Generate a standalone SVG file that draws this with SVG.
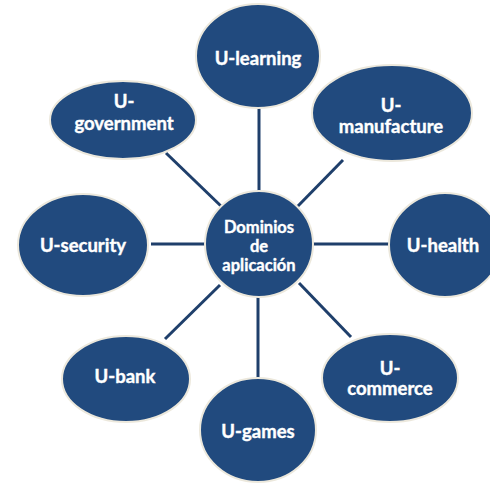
<svg xmlns="http://www.w3.org/2000/svg" width="490" height="484" viewBox="0 0 490 484">
  <style>
    .node { fill: #214a7e; stroke: #ece8dc; stroke-width: 2; }
    .lbl { font-family: Lato, "Open Sans", "Liberation Sans", sans-serif; font-weight: bold; font-size: 18.5px; fill: #ffffff; stroke: #ffffff; stroke-width: 0.4; text-anchor: middle; }
    .hub { font-size: 16.5px; }
    .edge { stroke: #1f3f6b; stroke-width: 3; fill: none; }
  </style>
  <rect width="490" height="484" fill="#ffffff"/>

  <g id="connectors">
    <line class="edge" x1="259" y1="108" x2="259" y2="191"/>
    <line class="edge" x1="343" y1="160" x2="297" y2="207"/>
    <line class="edge" x1="166" y1="153" x2="222" y2="207"/>
    <line class="edge" x1="151" y1="244" x2="206" y2="244"/>
    <line class="edge" x1="312" y1="244" x2="389" y2="244"/>
    <line class="edge" x1="165" y1="339" x2="220" y2="285"/>
    <line class="edge" x1="258" y1="296" x2="258" y2="378"/>
    <line class="edge" x1="299" y1="283" x2="351" y2="337"/>
  </g>

  <g id="u-learning">
    <ellipse class="node" cx="258" cy="56" rx="62" ry="52"/>
    <text class="lbl" x="258" y="65">U-learning</text>
  </g>

  <g id="u-manufacture">
    <ellipse class="node" cx="392" cy="113" rx="80" ry="48"/>
    <text class="lbl" x="391" y="112">U-</text>
    <text class="lbl" x="391" y="133">manufacture</text>
  </g>

  <g id="u-government">
    <ellipse class="node" cx="123" cy="120" rx="73" ry="39"/>
    <text class="lbl" x="124" y="108">U-</text>
    <text class="lbl" x="124" y="130">government</text>
  </g>

  <g id="dominios">
    <ellipse class="node" cx="259" cy="244" rx="54" ry="53"/>
    <text class="lbl hub" x="259" y="233">Dominios</text>
    <text class="lbl hub" x="259" y="252">de</text>
    <text class="lbl hub" x="259" y="271">aplicación</text>
  </g>

  <g id="u-security">
    <ellipse class="node" cx="83" cy="245" rx="65" ry="51"/>
    <text class="lbl" x="83" y="252">U-security</text>
  </g>

  <g id="u-health">
    <ellipse class="node" cx="445" cy="245" rx="56" ry="52"/>
    <text class="lbl" x="443" y="252">U-health</text>
  </g>

  <g id="u-bank">
    <ellipse class="node" cx="126" cy="379" rx="64" ry="43"/>
    <text class="lbl" x="125" y="383">U-bank</text>
  </g>

  <g id="u-games">
    <ellipse class="node" cx="258" cy="430" rx="58" ry="52"/>
    <text class="lbl" x="258" y="438">U-games</text>
  </g>

  <g id="u-commerce">
    <ellipse class="node" cx="390" cy="378" rx="68" ry="44"/>
    <text class="lbl" x="390" y="375">U-</text>
    <text class="lbl" x="390" y="395">commerce</text>
  </g>
</svg>
